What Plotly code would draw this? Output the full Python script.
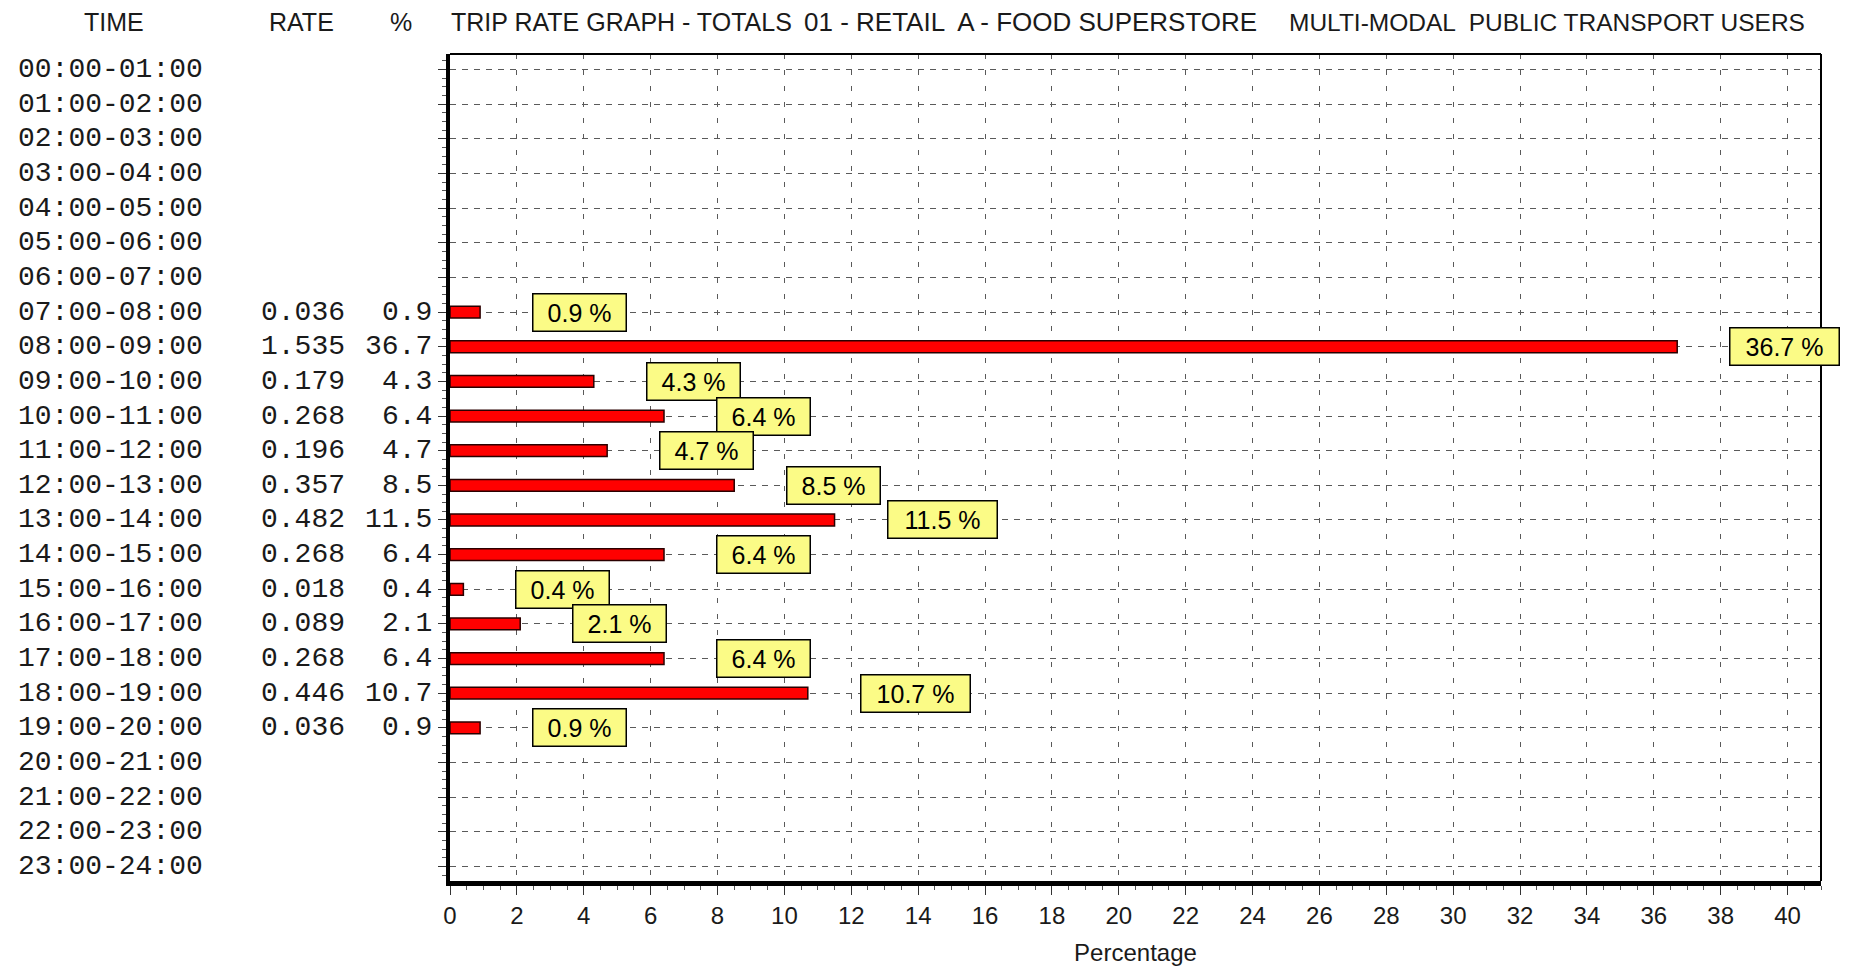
import plotly.graph_objects as go

# ---------------- data ----------------
time_slots = ["00:00-01:00", "01:00-02:00", "02:00-03:00", "03:00-04:00", "04:00-05:00",
              "05:00-06:00", "06:00-07:00", "07:00-08:00", "08:00-09:00", "09:00-10:00",
              "10:00-11:00", "11:00-12:00", "12:00-13:00", "13:00-14:00", "14:00-15:00",
              "15:00-16:00", "16:00-17:00", "17:00-18:00", "18:00-19:00", "19:00-20:00",
              "20:00-21:00", "21:00-22:00", "22:00-23:00", "23:00-24:00"]
data_slots = ["07:00-08:00", "08:00-09:00", "09:00-10:00", "10:00-11:00", "11:00-12:00",
              "12:00-13:00", "13:00-14:00", "14:00-15:00", "15:00-16:00", "16:00-17:00",
              "17:00-18:00", "18:00-19:00", "19:00-20:00"]
rates = ["0.036", "1.535", "0.179", "0.268", "0.196", "0.357", "0.482", "0.268",
         "0.018", "0.089", "0.268", "0.446", "0.036"]
percents = [0.9, 36.7, 4.3, 6.4, 4.7, 8.5, 11.5, 6.4, 0.4, 2.1, 6.4, 10.7, 0.9]
x_ticks = list(range(0, 41, 2))

title_parts = ["TRIP RATE GRAPH - TOTALS", "01 - RETAIL  A - FOOD SUPERSTORE",
               "MULTI-MODAL  PUBLIC TRANSPORT USERS"]

# ---------------- style ----------------
W, H = 1850, 969
L, R, T, B = 442, 37, 46, 96
SANS = "Liberation Sans Narrow, Arial Narrow, Liberation Sans, Arial, sans-serif"
MONO = "Liberation Mono, DejaVu Sans Mono, monospace"
TXT = "#1a1a1a"
GRID = "#5a5a5a"

row_index = {s: i for i, s in enumerate(time_slots)}
ys = [row_index[s] for s in data_slots]

fig = go.Figure()
fig.add_trace(go.Bar(
    x=percents, y=ys, orientation="h", width=0.34,
    marker=dict(color="#ff0000", line=dict(color="#2a0000", width=1.5)),
    hoverinfo="skip",
))

ann = []
# percentage boxes
for y, p in zip(ys, percents):
    t = f"{p} %"
    ann.append(dict(x=p, y=y, xref="x", yref="y", text=t, showarrow=False,
                    xanchor="left", yanchor="middle", xshift=52,
                    font=dict(family=SANS, size=25, color="#000"),
                    bgcolor="#fbfb86", bordercolor="#000", borderwidth=1.5,
                    borderpad=4, width=16 * len(t) + 4, align="center"))
# row labels (time column)
for i, s in enumerate(time_slots):
    ann.append(dict(x=0, y=i, xref="paper", yref="y", text=s, showarrow=False,
                    xanchor="left", yanchor="middle", xshift=8 - L,
                    font=dict(family=MONO, size=28, color=TXT)))
# rate and % columns
for y, r, p in zip(ys, rates, percents):
    ann.append(dict(x=0, y=y, xref="paper", yref="y", text=r, showarrow=False,
                    xanchor="right", yanchor="middle", xshift=339 - L,
                    font=dict(family=MONO, size=28, color=TXT)))
    ann.append(dict(x=0, y=y, xref="paper", yref="y", text=f"{p}", showarrow=False,
                    xanchor="right", yanchor="middle", xshift=426 - L,
                    font=dict(family=MONO, size=28, color=TXT)))
# headers
for txt, cx in [("TIME", 106), ("RATE", 293), ("%", 393)]:
    ann.append(dict(x=0, y=1, xref="paper", yref="paper", text=txt, showarrow=False,
                    xanchor="center", yanchor="middle", xshift=cx - L, yshift=T - 14,
                    font=dict(family=SANS, size=25, color=TXT)))
for txt, lx, fs in zip(title_parts, [441, 794, 1279], [25, 26, 24.5]):
    ann.append(dict(x=0, y=1, xref="paper", yref="paper", text=txt, showarrow=False,
                    xanchor="left", yanchor="middle", xshift=lx - L, yshift=T - 14,
                    font=dict(family=SANS, size=fs, color=TXT)))

fig.update_layout(
    width=W, height=H,
    margin=dict(l=L, r=R, t=T, b=B),
    paper_bgcolor="white", plot_bgcolor="white",
    showlegend=False,
    annotations=ann,
    xaxis=dict(range=[0, 41], tickvals=x_ticks, ticktext=[str(v) for v in x_ticks],
               showgrid=True, gridcolor=GRID, gridwidth=1, griddash="5px,11px",
               zeroline=False, showline=True, linecolor="black", linewidth=5,
               ticks="outside", ticklen=9, tickwidth=1, tickcolor="#333",
               minor=dict(dtick=0.5, ticks="outside", ticklen=4, tickcolor="#555", showgrid=False),
               tickfont=dict(family=SANS, size=24, color=TXT),
               title=dict(text="Percentage", font=dict(family=SANS, size=24, color=TXT), standoff=18),
               fixedrange=True),
    yaxis=dict(range=[23.42, -0.45], tickvals=list(range(24)), showticklabels=False,
               showgrid=True, gridcolor=GRID, gridwidth=1, griddash="6px,6px",
               zeroline=False, showline=True, linecolor="black", linewidth=4,
               ticks="outside", ticklen=8, tickwidth=1, tickcolor="#333",
               minor=dict(dtick=0.25, ticks="outside", ticklen=4, tickcolor="#555", showgrid=False),
               fixedrange=True),
    shapes=[
        dict(type="line", xref="paper", yref="paper", x0=0, x1=1, y0=1, y1=1,
             line=dict(color="black", width=2)),
        dict(type="line", xref="paper", yref="paper", x0=1, x1=1, y0=0, y1=1,
             line=dict(color="black", width=2)),
    ],
)

fig.write_html("out.html")
